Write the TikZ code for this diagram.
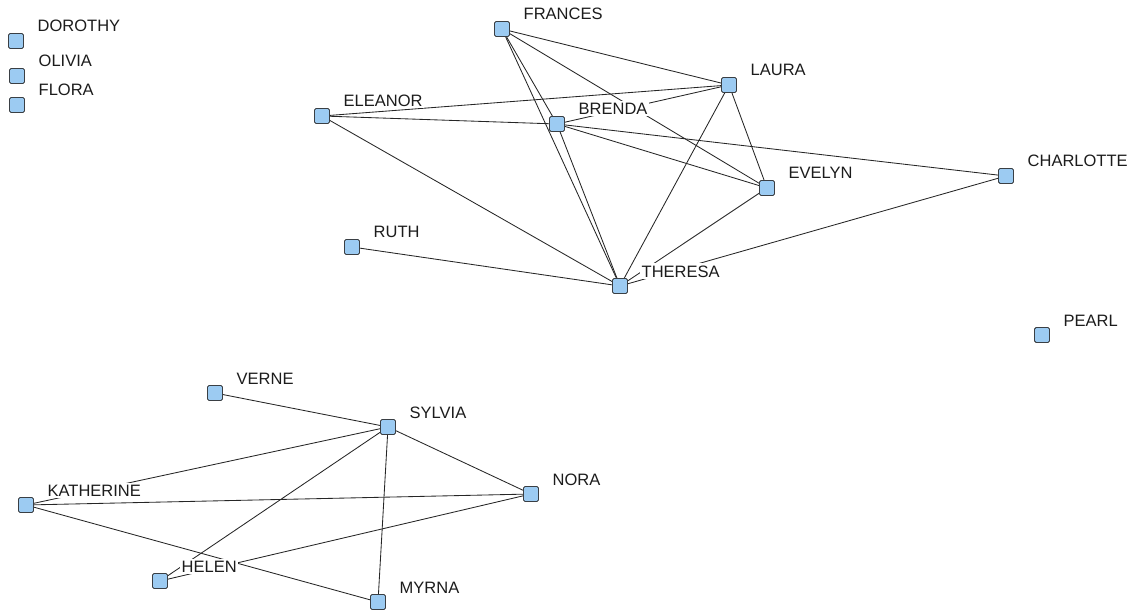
\documentclass[tikz,border=0pt]{standalone}
\usepackage{fontspec}
\setmainfont{Liberation Sans}
\usetikzlibrary{backgrounds}
\definecolor{sgInk}{HTML}{1C1C1C}
\definecolor{sgEdge}{HTML}{262626}
\definecolor{sgBox}{HTML}{3A3F44}
\definecolor{sgFill}{HTML}{9CCBF2}
\tikzset{
  actor/.style   ={draw=sgBox,fill=sgFill,line width=0.9pt,rounded corners=1.6pt,
                   minimum size=15pt,inner sep=0pt},
  namelbl/.style ={anchor=west,fill=white,inner xsep=1.5pt,inner ysep=1pt,
                   text height=12.5pt,text depth=0.5pt,text=sgInk,
                   font=\fontsize{16.5}{18}\selectfont},
  tie/.style     ={draw=sgEdge,line width=0.85pt},
}

\begin{document}
\begin{tikzpicture}[x=1pt,y=-1pt]
\useasboundingbox (0,0) rectangle (1137,612);

% actors: name / x / y / printed label
\foreach \n/\x/\y/\t in {dorothy/16/41/DOROTHY, olivia/17/76/OLIVIA, flora/17/105/FLORA,
                         frances/502/29/FRANCES, laura/729/85/LAURA, eleanor/322/116/ELEANOR,
                         brenda/557/124/BRENDA, evelyn/767/188/EVELYN, charlotte/1006/176/CHARLOTTE,
                         ruth/352/247/RUTH, theresa/620/286/THERESA, pearl/1042/335/PEARL,
                         verne/215/393/VERNE, sylvia/388/427/SYLVIA, nora/531/494/NORA,
                         katherine/26/505/KATHERINE, helen/160/581/HELEN, myrna/378/602/MYRNA}
  { \node[actor] (\n) at (\x,\y) {};
    \node[namelbl] (\n-l) at (\x+20,\y-15) {\t}; }

% ties, kept under the labels
\begin{scope}[on background layer]
\foreach \a/\b in {frances/laura, frances/evelyn, frances/brenda, frances/theresa,
                   laura/eleanor, laura/brenda, laura/evelyn, laura/theresa,
                   eleanor/brenda, eleanor/theresa,
                   brenda/evelyn, brenda/charlotte, brenda/theresa,
                   evelyn/theresa, charlotte/theresa, ruth/theresa}
  \draw[tie] (\a) -- (\b);
\foreach \a/\b in {verne/sylvia, sylvia/katherine, sylvia/nora, sylvia/myrna, sylvia/helen,
                   katherine/nora, katherine/myrna, helen/nora}
  \draw[tie] (\a) -- (\b);
\end{scope}
\end{tikzpicture}
\end{document}
